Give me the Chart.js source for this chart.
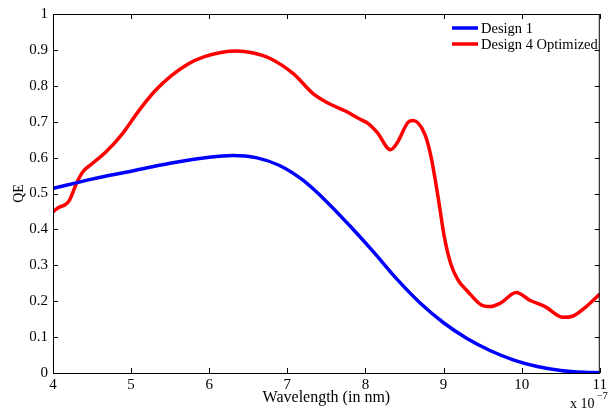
<!DOCTYPE html>
<html>
<head>
<meta charset="utf-8">
<script src="https://cdn.jsdelivr.net/npm/chart.js@4.4.1/dist/chart.umd.min.js"></script>
<style>
  html, body { margin: 0; padding: 0; background: #fff; }
  #wrap { width: 610px; height: 412px; }
</style>
</head>
<body>
<div id="wrap"><canvas id="qeChart" width="610" height="412"></canvas></div>
<script>
// wavelength in units of 1e-7 m (axis shows "x 10^-7")
const design1X = [4.0, 4.5, 5.0, 5.5, 6.0, 6.3, 6.6, 6.9, 7.2, 7.5, 7.8, 8.1, 8.4, 8.7, 9.0, 9.3, 9.6, 9.9, 10.2, 10.5, 10.8, 11.0];
const design1QE = [0.514, 0.540, 0.562, 0.584, 0.601, 0.606, 0.600, 0.578, 0.537, 0.478, 0.410, 0.338, 0.262, 0.195, 0.140, 0.096, 0.062, 0.036, 0.018, 0.007, 0.002, 0.001];

const design4X = [4.0, 4.08, 4.15, 4.21, 4.30, 4.38, 4.5, 4.68, 4.89, 5.10, 5.31, 5.52, 5.73, 5.94, 6.15, 6.35, 6.55, 6.78, 7.08, 7.33, 7.5, 7.75, 7.92, 8.04, 8.15, 8.32, 8.40, 8.55, 8.61, 8.76, 8.84, 8.93, 9.01, 9.09, 9.18, 9.31, 9.48, 9.6, 9.73, 9.93, 10.11, 10.3, 10.53, 10.65, 10.8, 11.0];
const design4QE = [0.449, 0.462, 0.468, 0.481, 0.528, 0.560, 0.583, 0.616, 0.667, 0.731, 0.787, 0.829, 0.861, 0.881, 0.893, 0.897, 0.892, 0.876, 0.833, 0.778, 0.754, 0.729, 0.708, 0.694, 0.670, 0.622, 0.639, 0.699, 0.703, 0.665, 0.602, 0.490, 0.379, 0.306, 0.261, 0.227, 0.190, 0.185, 0.195, 0.224, 0.202, 0.185, 0.155, 0.158, 0.180, 0.220];

const seriesLabels = ['Design 1', 'Design 4 Optimized'];
const seriesColors = ['#0000ff', '#ff0000'];
const xTicks = [4, 5, 6, 7, 8, 9, 10, 11];
const yTicks = [0, 0.1, 0.2, 0.3, 0.4, 0.5, 0.6, 0.7, 0.8, 0.9, 1];

const FONT = '"Liberation Serif", "Times New Roman", serif';

function toPoints(xs, ys) {
    return xs.map((x, i) => ({ x: x, y: ys[i] }));
}

// box, inward ticks, legend and the exponent note, matlab style
const matlabAxes = {
    id: 'matlabAxes',
    afterDraw(chart) {
        const ctx = chart.ctx;
        const a = chart.chartArea;
        const xs = chart.scales.x, ys = chart.scales.y;
        ctx.save();
        ctx.strokeStyle = '#000';
        ctx.lineWidth = 1;
        ctx.strokeRect(a.left + 0.5, a.top + 0.5, a.right - a.left - 1, a.bottom - a.top);
        ctx.beginPath();
        xTicks.forEach(v => {
            const px = Math.round(xs.getPixelForValue(v)) + 0.5;
            ctx.moveTo(px, a.bottom); ctx.lineTo(px, a.bottom - 5);
            ctx.moveTo(px, a.top); ctx.lineTo(px, a.top + 5);
        });
        yTicks.forEach(v => {
            const py = Math.round(ys.getPixelForValue(v)) + 0.5;
            ctx.moveTo(a.left, py); ctx.lineTo(a.left + 5, py);
            ctx.moveTo(a.right, py); ctx.lineTo(a.right - 5, py);
        });
        ctx.stroke();

        // legend
        ctx.font = '14.5px ' + FONT;
        ctx.textBaseline = 'middle';
        ctx.textAlign = 'left';
        const rows = [28, 44];
        chart.data.datasets.forEach((ds, i) => {
            ctx.strokeStyle = ds.borderColor;
            ctx.lineWidth = 3.5;
            ctx.beginPath();
            ctx.moveTo(452, rows[i]); ctx.lineTo(478, rows[i]);
            ctx.stroke();
            ctx.fillStyle = '#000';
            ctx.fillText(ds.label, 481, rows[i] + 1);
        });

        // x 10^-7
        ctx.font = '14px ' + FONT;
        ctx.fillText('x 10', 570, 404);
        ctx.font = '10px ' + FONT;
        ctx.fillText('\u22127', 597, 396);
        ctx.restore();
    }
};

const ctx = document.getElementById('qeChart').getContext('2d');
const chart = new Chart(ctx, {
    type: 'line',
    data: {
        datasets: [{
            label: seriesLabels[0],
            data: toPoints(design1X, design1QE),
            borderColor: seriesColors[0],
            borderWidth: 3.5,
            pointRadius: 0,
            cubicInterpolationMode: 'monotone',
            fill: false
        }, {
            label: seriesLabels[1],
            data: toPoints(design4X, design4QE),
            borderColor: seriesColors[1],
            borderWidth: 3.5,
            pointRadius: 0,
            cubicInterpolationMode: 'monotone',
            fill: false
        }]
    },
    options: {
        responsive: false,
        animation: false,
        layout: { padding: { top: 13, right: 3, left: 0, bottom: 0 } },
        plugins: {
            legend: { display: false },
            tooltip: { enabled: false }
        },
        scales: {
            x: {
                type: 'linear',
                min: 4, max: 11,
                afterFit(s) { s.height = 39; },
                afterBuildTicks(s) { s.ticks = xTicks.map(v => ({ value: v })); },
                grid: { display: false, drawTicks: false },
                border: { display: false },
                ticks: { color: '#000', padding: 3, maxRotation: 0, autoSkip: false, font: { family: FONT, size: 15 } },
                title: { display: true, text: 'Wavelength (in nm)', color: '#000', padding: { top: 0, bottom: 5 }, font: { family: FONT, size: 16 } }
            },
            y: {
                min: 0, max: 1,
                afterFit(s) { s.width = 53; },
                afterBuildTicks(s) { s.ticks = yTicks.map(v => ({ value: v })); },
                grid: { display: false, drawTicks: false },
                border: { display: false },
                ticks: {
                    color: '#000', padding: 5, autoSkip: false,
                    font: { family: FONT, size: 15 },
                    callback: v => String(Math.round(v * 10) / 10)
                },
                title: { display: true, text: 'QE', color: '#000', padding: { top: 11, bottom: 0 }, font: { family: FONT, size: 14 } }
            }
        }
    },
    plugins: [matlabAxes]
});
</script>
</body>
</html>
